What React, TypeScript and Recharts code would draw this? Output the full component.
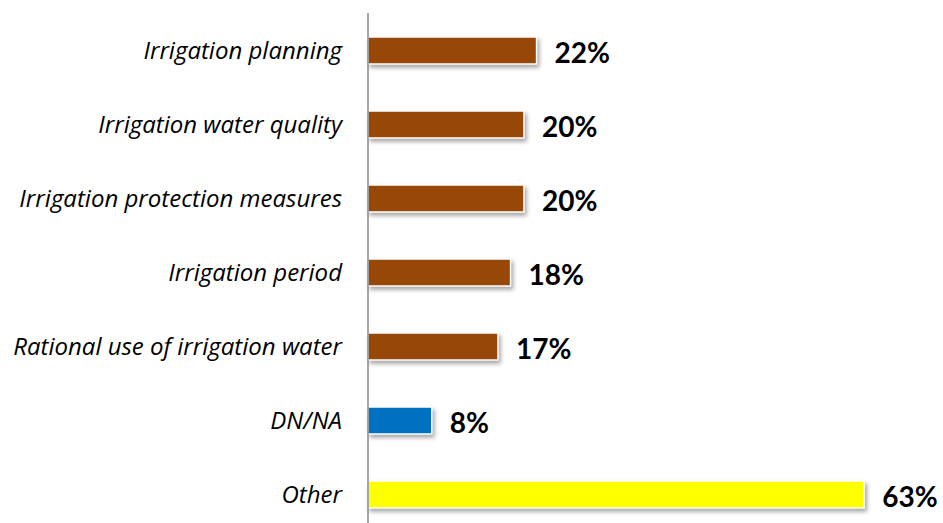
import React from 'react';
import { BarChart, Bar, XAxis, YAxis, Cell, LabelList } from 'recharts';

const categories = [
  'Irrigation planning',
  'Irrigation water quality',
  'Irrigation protection measures',
  'Irrigation period',
  'Rational use of irrigation water',
  'DN/NA',
  'Other',
];
const shares = [21.4, 19.8, 19.8, 18.1, 16.5, 8.1, 63.0];
const labels = ['22%', '20%', '20%', '18%', '17%', '8%', '63%'];
const COLORS = ['#974706', '#974706', '#974706', '#974706', '#974706', '#0070C0', '#FFFF00'];

const data = categories.map((name, i) => ({ name, value: shares[i], label: labels[i] }));

const shadow = { filter: 'drop-shadow(2px 3px 2px rgba(0,0,0,0.35))' };

export default function App() {
  return (
    <div style={{ position: 'fixed', left: 0, top: 0, width: 943, height: 523, overflow: 'hidden', background: '#fff' }}>
      <BarChart
        width={943}
        height={531}
        layout="vertical"
        data={data}
        margin={{ top: 13, right: 0, bottom: 0, left: 0 }}
      >
        <XAxis type="number" domain={[0, 73]} hide />
        <YAxis
          type="category"
          dataKey="name"
          width={368}
          axisLine={{ stroke: '#888', strokeWidth: 1.5 }}
          tickLine={false}
          tickMargin={20}
          tick={{ fill: '#000', fontSize: 24, fontStyle: 'italic', fontFamily: 'Open Sans' }}
        />
        <Bar dataKey="value" barSize={27} stroke="#fff" strokeWidth={1.5} isAnimationActive={false}>
          {data.map((entry, index) => (
            <Cell key={`cell-${index}`} fill={COLORS[index]} style={shadow} />
          ))}
          <LabelList
            dataKey="label"
            position="right"
            offset={18}
            style={{ fill: '#000', fontSize: 28, fontWeight: 'bold', fontFamily: 'Lato' }}
            dy={3}
          />
        </Bar>
      </BarChart>
    </div>
  );
}
